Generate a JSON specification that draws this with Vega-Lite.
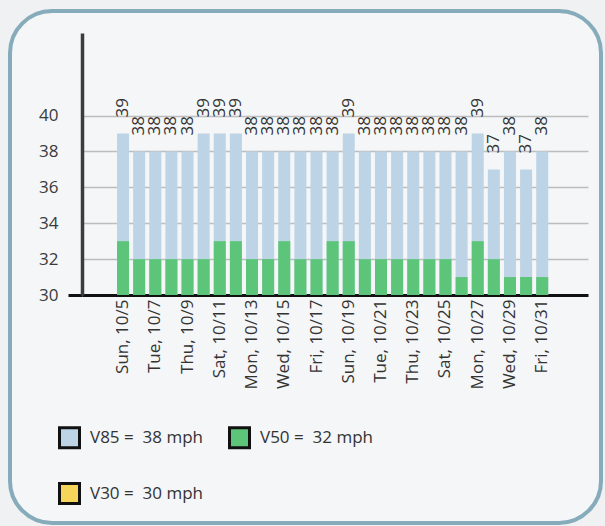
{
  "$schema": "https://vega.github.io/schema/vega-lite/v6.json",
  "width": 591,
  "height": 512,
  "autosize": {"type": "none"},
  "padding": {"left": 10, "top": 11, "right": 4, "bottom": 3},
  "background": "#eff1f2",
  "config": {
    "view": {"stroke": "#86abbb", "strokeWidth": 4, "cornerRadius": 42, "fill": "#f4f6f7"},
    "font": "Open Sans"
  },
  "data": {
    "values": [
      {"date": "Sun, 10/5", "v85": 39, "v50": 33},
      {"date": "Mon, 10/6", "v85": 38, "v50": 32},
      {"date": "Tue, 10/7", "v85": 38, "v50": 32},
      {"date": "Wed, 10/8", "v85": 38, "v50": 32},
      {"date": "Thu, 10/9", "v85": 38, "v50": 32},
      {"date": "Fri, 10/10", "v85": 39, "v50": 32},
      {"date": "Sat, 10/11", "v85": 39, "v50": 33},
      {"date": "Sun, 10/12", "v85": 39, "v50": 33},
      {"date": "Mon, 10/13", "v85": 38, "v50": 32},
      {"date": "Tue, 10/14", "v85": 38, "v50": 32},
      {"date": "Wed, 10/15", "v85": 38, "v50": 33},
      {"date": "Thu, 10/16", "v85": 38, "v50": 32},
      {"date": "Fri, 10/17", "v85": 38, "v50": 32},
      {"date": "Sat, 10/18", "v85": 38, "v50": 33},
      {"date": "Sun, 10/19", "v85": 39, "v50": 33},
      {"date": "Mon, 10/20", "v85": 38, "v50": 32},
      {"date": "Tue, 10/21", "v85": 38, "v50": 32},
      {"date": "Wed, 10/22", "v85": 38, "v50": 32},
      {"date": "Thu, 10/23", "v85": 38, "v50": 32},
      {"date": "Fri, 10/24", "v85": 38, "v50": 32},
      {"date": "Sat, 10/25", "v85": 38, "v50": 32},
      {"date": "Sun, 10/26", "v85": 38, "v50": 31},
      {"date": "Mon, 10/27", "v85": 39, "v50": 33},
      {"date": "Tue, 10/28", "v85": 37, "v50": 32},
      {"date": "Wed, 10/29", "v85": 38, "v50": 31},
      {"date": "Thu, 10/30", "v85": 37, "v50": 31},
      {"date": "Fri, 10/31", "v85": 38, "v50": 31}
    ]
  },
  "encoding": {
    "x": {
      "field": "date",
      "type": "nominal",
      "sort": null,
      "scale": {
        "domain": ["_pad1", "_pad2", "Sun, 10/5", "Mon, 10/6", "Tue, 10/7", "Wed, 10/8", "Thu, 10/9", "Fri, 10/10", "Sat, 10/11", "Sun, 10/12", "Mon, 10/13", "Tue, 10/14", "Wed, 10/15", "Thu, 10/16", "Fri, 10/17", "Sat, 10/18", "Sun, 10/19", "Mon, 10/20", "Tue, 10/21", "Wed, 10/22", "Thu, 10/23", "Fri, 10/24", "Sat, 10/25", "Sun, 10/26", "Mon, 10/27", "Tue, 10/28", "Wed, 10/29", "Thu, 10/30", "Fri, 10/31", "_pad3", "_pad4"],
        "range": [72, 578],
        "paddingInner": 0.255,
        "paddingOuter": 0.32,
        "align": 0.27,
        "round": false
      },
      "axis": {
        "title": null,
        "orient": "bottom",
        "offset": -228,
        "values": ["Sun, 10/5", "Tue, 10/7", "Thu, 10/9", "Sat, 10/11", "Mon, 10/13", "Wed, 10/15", "Fri, 10/17", "Sun, 10/19", "Tue, 10/21", "Thu, 10/23", "Sat, 10/25", "Mon, 10/27", "Wed, 10/29", "Fri, 10/31"],
        "labelAngle": -90,
        "labelFontSize": 17,
        "labelColor": "#333333",
        "labelPadding": 4,
        "labelOverlap": false,
        "labelBound": false,
        "ticks": false,
        "domainColor": "#111111",
        "domainWidth": 3,
        "grid": false
      }
    }
  },
  "layer": [
    {
      "mark": {"type": "bar"},
      "encoding": {
        "y": {
          "field": "v85",
          "type": "quantitative",
          "scale": {"domain": [30, 44.6], "range": [284, 22], "zero": false, "nice": false},
          "axis": {
            "title": null,
            "offset": -72,
            "values": [30, 32, 34, 36, 38, 40],
            "labelFontSize": 17,
            "labelColor": "#3a3a3a",
            "labelPadding": 10,
            "tickSize": 14,
            "tickWidth": 3,
            "tickColor": {"condition": {"test": "datum.value === 30", "value": "#111111"}, "value": "transparent"},
            "domainColor": "#3c3c3c",
            "domainWidth": 3.5,
            "grid": true,
            "gridColor": {"condition": {"test": "datum.value === 30", "value": "transparent"}, "value": "#bdbdbd"},
            "gridWidth": 1.5
          }
        },
        "y2": {"datum": 30},
        "color": {
          "datum": "V85 = \u00a038 mph",
          "scale": {
            "domain": ["V85 = \u00a038 mph", "V50 = \u00a032 mph", "V30 = \u00a030 mph"],
            "range": ["#bdd4e6", "#5dc579", "#f5d55a"]
          },
          "legend": {
            "orient": "none",
            "legendX": 48,
            "legendY": 415,
            "title": null,
            "columns": 2,
            "direction": "horizontal",
            "symbolType": "square",
            "symbolSize": 400,
            "labelFontSize": 17,
            "labelColor": "#333333",
            "labelOffset": 9,
            "rowPadding": 23,
            "columnPadding": 20,
            "padding": 0,
            "symbolOpacity": 1,
            "encode": {"symbols": {"update": {"stroke": {"value": "#111111"}, "strokeWidth": {"value": 3}}}}
          }
        }
      }
    },
    {
      "mark": {"type": "bar"},
      "encoding": {
        "y": {"field": "v50", "type": "quantitative"},
        "y2": {"datum": 30},
        "color": {"datum": "V50 = \u00a032 mph"}
      }
    },
    {
      "mark": {"type": "text", "angle": 270, "align": "left", "baseline": "middle", "dx": 16, "fontSize": 17, "color": "#333333"},
      "encoding": {
        "y": {"field": "v85", "type": "quantitative"},
        "text": {"field": "v85", "type": "quantitative"}
      }
    }
  ]
}
